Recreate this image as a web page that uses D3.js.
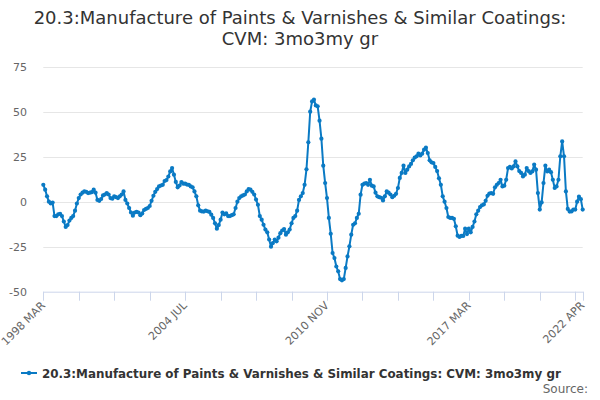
<!DOCTYPE html>
<html>
<head>
<meta charset="utf-8">
<script src="https://cdn.jsdelivr.net/npm/d3@7"></script>
<style>
  html, body { margin: 0; padding: 0; background: #fff; }
  svg { display: block; font-family: "DejaVu Sans", sans-serif; }
</style>
</head>
<body>
<svg id="chart" width="600" height="400"></svg>
<script>
const titleLines = ["20.3:Manufacture of Paints & Varnishes & Similar Coatings:", "CVM: 3mo3my gr"];
const seriesName = "20.3:Manufacture of Paints & Varnishes & Similar Coatings: CVM: 3mo3my gr";
const startYear = 1998, startMonth = 3; // 1998 MAR
const values = [
  9.4, 6.7, 3, 0, -1, -0.5, -8, -8, -7, -6.7,
  -8, -11, -14, -13, -10.5, -9, -8, -5, -1, 2,
  4, 5, 5.7, 5.5, 4.8, 5, 5.3, 6.7, 5, 1,
  0.5, 1.5, 3.5, 4, 4.8, 4, 2, 1.7, 3, 2.5,
  2, 3, 4, 5.7, 1, -1, -3.5, -6, -7.8, -6,
  -5.6, -6, -7.5, -6.5, -4.6, -4, -3.5, -2.4, 0.5, 3.3,
  5.5, 7, 8.5, 9, 9.4, 11.5, 12, 14, 16.8, 18.7,
  15, 11, 8, 9, 10.9, 10, 10, 9.5, 9.4, 8.5,
  8, 5.7, 3, -2, -5, -5.4, -5.5, -5, -5.3, -5.7,
  -7.2, -9, -12, -15, -13, -10, -6, -7, -6.5, -8,
  -8, -7.5, -7, -3.5, 0, 2, 3, 3.5, 4, 5.7,
  7, 6.7, 5.5, 4, 1.2, -1.7, -8, -10, -12.8, -15.5,
  -17, -21, -25, -23, -21, -22, -20, -17.5, -16, -15.2,
  -18.3, -17, -15.5, -12, -9, -8, -5, 1, 3, 4.8,
  9.4, 18, 33, 50, 55.7, 56.7, 53.5, 53, 45, 35,
  20, 10.4, 2, -9, -17.8, -28.5, -31.3, -36, -38.7, -43,
  -43.7, -43, -36.8, -30.4, -24.8, -18.3, -12.8, -12, -9, -6.7,
  3.9, 9.4, 10, 10.4, 9.4, 12.2, 8.9, 8.5, 5, 3,
  2.5, 2.2, 0.7, 3, 5.7, 5, 4, 2.5, 3.3, 4.4,
  7.6, 13.2, 16, 20, 16, 17.8, 19.6, 21, 23, 24.5,
  25.2, 26.7, 25.7, 26.7, 28.9, 30, 27, 23, 21.9, 21.5,
  19.3, 17, 13, 9.4, 3, 0, -3.5, -8.5, -9, -9,
  -9.5, -13.7, -18.9, -19.6, -19, -19, -15, -18, -15, -17,
  -14, -11, -7, -5, -3, -2, -1.5, 0.5, 3.3, 4.5,
  4.8, 4.4, 8, 9.4, 10.4, 12.2, 8.5, 8.9, 12.2, 18.7,
  19.3, 18.5, 19.6, 22.4, 19.6, 17, 16, 14, 15, 18.7,
  17, 16, 16.8, 20.6, 17.8, 4.8, -4.4, -0.4, 10.4, 20,
  16.8, 17.8, 16.4, 12.2, 7.6, 8.5, 12.2, 25.2, 33.5, 25.2,
  5.7, -4, -5.5, -5.4, -4.4, -4.4, 0, 2.8, 1.4, -4.4
];
const yTicks = [-50, -25, 0, 25, 50, 75];
const tickStep = 19;           // months between x tick marks
const labelEvery = 4;          // label every 4th tick
const monthNames = ["JAN","FEB","MAR","APR","MAY","JUN","JUL","AUG","SEP","OCT","NOV","DEC"];

function labelFor(i) {
  const m0 = (startMonth - 1) + i;
  const yr = startYear + Math.floor(m0 / 12);
  return yr + " " + monthNames[m0 % 12];
}

const svg = d3.select("#chart");
const pLeft = 43.3, pRight = 582.7, pTop = 66.7, pBottom = 291.7;
const n = values.length;
const x = d3.scaleLinear().domain([0, n - 1]).range([pLeft, pRight]);
const y = d3.scaleLinear().domain([-50, 75]).range([pBottom, pTop]);

// title
const title = svg.append("text").attr("text-anchor", "middle")
  .attr("font-size", 18).attr("fill", "#333333");
titleLines.forEach((t, k) => {
  title.append("tspan").attr("x", 300).attr("y", 24 + k * 21).text(t);
});

// gridlines
svg.append("g").selectAll("line").data(yTicks.filter(d => d !== -50)).join("line")
  .attr("x1", pLeft).attr("x2", pRight)
  .attr("y1", d => Math.round(y(d)) + 0.5).attr("y2", d => Math.round(y(d)) + 0.5)
  .attr("stroke", "#e6e6e6").attr("stroke-width", 1);

// y labels
svg.append("g").selectAll("text").data(yTicks).join("text")
  .attr("x", 27).attr("y", d => y(d) + 4)
  .attr("text-anchor", "end").attr("font-size", 11).attr("fill", "#666666")
  .text(d => d);

// x axis
const tickIdx = d3.range(0, n - 1, tickStep).concat([n - 1]);
const labelIdx = tickIdx.filter((d, k) => k % labelEvery === 0 || d === n - 1);
svg.append("line").attr("x1", pLeft).attr("x2", pRight + 0.5)
  .attr("y1", pBottom + 0.5).attr("y2", pBottom + 0.5)
  .attr("stroke", "#ccd6eb").attr("stroke-width", 1);
svg.append("g").selectAll("line").data(tickIdx).join("line")
  .attr("x1", d => Math.round(x(d)) + 0.5).attr("x2", d => Math.round(x(d)) + 0.5)
  .attr("y1", pBottom).attr("y2", pBottom + 9)
  .attr("stroke", "#ccd6eb").attr("stroke-width", 1);
svg.append("g").selectAll("text").data(labelIdx).join("text")
  .attr("transform", d => `translate(${x(d) + 2.5},${pBottom + 14.5}) rotate(-45)`)
  .attr("text-anchor", "end").attr("font-size", 11).attr("fill", "#666666")
  .text(d => labelFor(d));

// line
const color = "#0a7ac4";
const line = d3.line().x((d, i) => x(i)).y(d => y(d));
svg.append("path").datum(values).attr("d", line)
  .attr("fill", "none").attr("stroke", color).attr("stroke-width", 2)
  .attr("stroke-linejoin", "round");
svg.append("g").selectAll("circle").data(values).join("circle")
  .attr("cx", (d, i) => x(i)).attr("cy", d => y(d)).attr("r", 2.1)
  .attr("fill", color);

// legend
const lg = svg.append("g");
lg.append("line").attr("x1", 21).attr("x2", 37).attr("y1", 373).attr("y2", 373)
  .attr("stroke", color).attr("stroke-width", 2);
lg.append("circle").attr("cx", 29).attr("cy", 373).attr("r", 2.2).attr("fill", color);
lg.append("text").attr("x", 42).attr("y", 377.5).attr("font-size", 11.9)
  .attr("font-weight", "bold").attr("fill", "#333333").text(seriesName);

// source
svg.append("text").attr("x", 588).attr("y", 393).attr("text-anchor", "end")
  .attr("font-size", 12).attr("fill", "#666666").text("Source:");
</script>
</body>
</html>
